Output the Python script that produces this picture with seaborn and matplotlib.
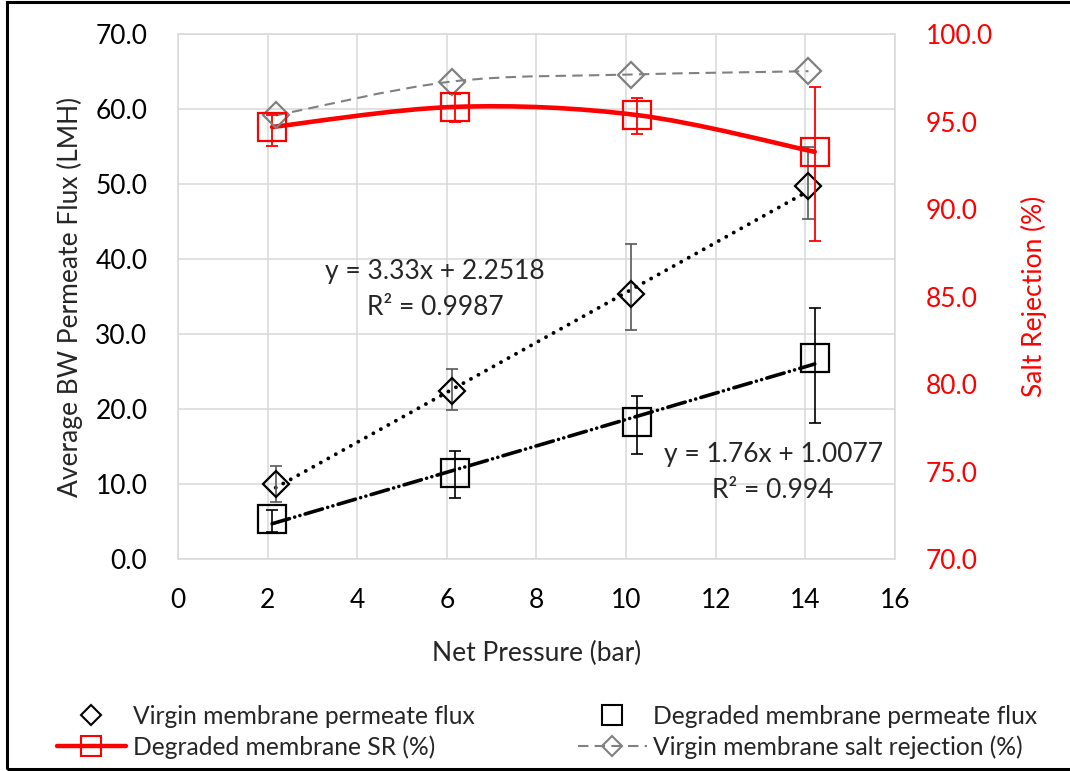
import numpy as np
import matplotlib
matplotlib.use("Agg")
import matplotlib.pyplot as plt
import seaborn as sns
from matplotlib.path import Path
from matplotlib.patches import PathPatch, Rectangle
from matplotlib.lines import Line2D
from matplotlib.ticker import FormatStrFormatter

# net pressure (bar)
virgin_x = [2.18, 6.11, 10.1, 14.07]
degraded_x = [2.1, 6.17, 10.25, 14.21]

# average permeate flux (LMH) with error bars (lower, upper)
virgin_flux = [10.0, 22.35, 35.3, 49.8]
virgin_flux_lo = [2.4, 2.45, 4.7, 4.4]
virgin_flux_hi = [2.4, 3.05, 6.7, 5.2]
degraded_flux = [5.3, 11.5, 18.3, 26.8]
degraded_flux_lo = [1.7, 3.3, 4.3, 8.6]
degraded_flux_hi = [1.3, 2.9, 3.5, 6.7]

# salt rejection (%)
virgin_sr = [95.36, 97.3, 97.7, 97.89]
degraded_sr = [94.7, 95.85, 95.38, 93.28]
degraded_sr_lo = [1.1, 0.89, 1.09, 5.08]
degraded_sr_hi = [0.7, 0.72, 0.95, 3.68]

# linear trendlines as printed on the chart: slope, intercept, R2
virgin_fit = [3.33, 2.2518, 0.9987]
degraded_fit = [1.76, 1.0077, 0.994]

x_ticks = [0, 2, 4, 6, 8, 10, 12, 14, 16]
flux_ticks = [0, 10, 20, 30, 40, 50, 60, 70]
sr_ticks = [70, 75, 80, 85, 90, 95, 100]

legend_labels = [
    "Virgin membrane permeate flux",
    "Degraded membrane SR (%)",
    "Degraded membrane permeate flux",
    "Virgin membrane salt rejection (%)",
]

RED = "#ff0000"
GREY = "#808080"
GRID = "#d9d9d9"
FS = 19


def smooth_path(xs, ys):
    # Excel-style smoothed line: Catmull-Rom segments as cubic Bezier curves
    pts = np.column_stack([xs, ys]).astype(float)
    ext = np.vstack([pts[0], pts, pts[-1]])
    verts = [pts[0]]
    codes = [Path.MOVETO]
    for i in range(len(pts) - 1):
        p0, p1, p2, p3 = ext[i], ext[i + 1], ext[i + 2], ext[i + 3]
        verts += [p1 + (p2 - p0) / 6, p2 - (p3 - p1) / 6, p2]
        codes += [Path.CURVE4] * 3
    return Path(verts, codes)


sns.set_theme(style="white")
plt.rcParams["font.family"] = ["Lato", "DejaVu Sans"]

fig = plt.figure(figsize=(10.7, 7.71), dpi=100)
ax = fig.add_axes([0.1664, 0.275, 0.6700, 0.6805])
ax2 = ax.twinx()

# left axis: permeate flux
ax.set_xlim(0, 16)
ax.set_ylim(0, 70)
ax.set_xticks(x_ticks)
ax.set_yticks(flux_ticks)
ax.yaxis.set_major_formatter(FormatStrFormatter("%.1f"))
ax.grid(True, color=GRID, lw=1.1)
ax.set_axisbelow(True)
for s in ax.spines.values():
    s.set_color(GRID)
    s.set_linewidth(1.1)
ax.tick_params(axis="both", length=0, labelsize=FS, colors="black")
ax.tick_params(axis="y", pad=22)
ax.tick_params(axis="x", pad=21)

# trendlines
vx = np.array([min(virgin_x), max(virgin_x)])
ax.plot(vx, virgin_fit[0] * vx + virgin_fit[1], color="black", lw=2.8,
        linestyle=(0, (0.01, 2.2)), dash_capstyle="round")
dx = np.array([min(degraded_x), max(degraded_x)])
ax.plot(dx, degraded_fit[0] * dx + degraded_fit[1], color="black", lw=2.6,
        linestyle=(0, (5, 1.5, 0.01, 1.5, 0.01, 1.5)), dash_capstyle="round")

ax.errorbar(virgin_x, virgin_flux, yerr=[virgin_flux_lo, virgin_flux_hi], fmt="none",
            ecolor="#595959", elinewidth=1.2, capsize=4.5, capthick=1.2)
ax.errorbar(degraded_x, degraded_flux, yerr=[degraded_flux_lo, degraded_flux_hi], fmt="none",
            ecolor="black", elinewidth=1.2, capsize=4.5, capthick=1.2)

sns.lineplot(x=virgin_x, y=virgin_flux, ax=ax, marker="D", linestyle="", markersize=13,
             markerfacecolor="none", markeredgecolor="black", markeredgewidth=1.6, errorbar=None)
sns.lineplot(x=degraded_x, y=degraded_flux, ax=ax, marker="s", linestyle="", markersize=19.5,
             markerfacecolor="none", markeredgecolor="black", markeredgewidth=1.6, errorbar=None)

ax.text(5.74, 38.3, f"y = {virgin_fit[0]}x + {virgin_fit[1]}", ha="center", va="center", fontsize=FS)
ax.text(5.74, 33.5, f"R² = {virgin_fit[2]}", ha="center", va="center", fontsize=FS)
ax.text(13.28, 13.9, f"y = {degraded_fit[0]}x + {degraded_fit[1]}", ha="center", va="center", fontsize=FS)
ax.text(13.28, 9.2, f"R² = {degraded_fit[2]}", ha="center", va="center", fontsize=FS)

ax.set_xlabel("Net Pressure (bar)", fontsize=FS, labelpad=20)
ax.set_ylabel("Average BW Permeate Flux (LMH)", fontsize=FS, labelpad=9)

# right axis: salt rejection
ax2.set_ylim(70, 100)
ax2.set_yticks(sr_ticks)
ax2.yaxis.set_major_formatter(FormatStrFormatter("%.1f"))
ax2.grid(False)
for s in ax2.spines.values():
    s.set_visible(False)
ax2.tick_params(axis="y", length=0, labelsize=FS, colors=RED, pad=22)
ax2.set_ylabel("Salt Rejection (%)", fontsize=FS, color=RED, labelpad=20)

ax2.add_patch(PathPatch(smooth_path(virgin_x, virgin_sr), fill=False, edgecolor=GREY,
                        lw=1.5, linestyle=(0, (5, 3))))
ax2.errorbar(degraded_x, degraded_sr, yerr=[degraded_sr_lo, degraded_sr_hi], fmt="none",
             ecolor=RED, elinewidth=1.3, capsize=4.5, capthick=1.3)
sns.lineplot(x=virgin_x, y=virgin_sr, ax=ax2, marker="D", linestyle="", markersize=13,
             markerfacecolor="none", markeredgecolor=GREY, markeredgewidth=1.6, errorbar=None)
sns.lineplot(x=degraded_x, y=degraded_sr, ax=ax2, marker="s", linestyle="", markersize=19.5,
             markerfacecolor="none", markeredgecolor=RED, markeredgewidth=1.6, errorbar=None)
ax2.add_patch(PathPatch(smooth_path(degraded_x, degraded_sr), fill=False, edgecolor=RED,
                        lw=3.3, capstyle="round"))

# legend
handles = [
    Line2D([], [], linestyle="none", marker="D", ms=10, mfc="none", mec="black", mew=1.5),
    Line2D([], [], color=RED, lw=3.2, marker="s", ms=14.5, mfc="none", mec=RED, mew=1.5),
    Line2D([], [], linestyle="none", marker="s", ms=14.5, mfc="none", mec="black", mew=1.5),
    Line2D([], [], color=GREY, lw=1.5, linestyle=(0, (5, 3)), marker="D", ms=10,
           mfc="none", mec=GREY, mew=1.5),
]
leg_font = {"family": ["Lato", "DejaVu Sans"], "size": 17.7}
fig.legend(handles[:2], legend_labels[:2], loc="center left", bbox_to_anchor=(0.0533, 0.0505),
           frameon=False, prop=leg_font, handlelength=2.8, handletextpad=0.27,
           borderpad=0, borderaxespad=0, labelspacing=0.3)
fig.legend(handles[2:], legend_labels[2:], loc="center left", bbox_to_anchor=(0.540, 0.0505),
           frameon=False, prop=leg_font, handlelength=2.8, handletextpad=0.27,
           borderpad=0, borderaxespad=0, labelspacing=0.3)

# chart border
fig.patches.append(Rectangle((0.007, 0.0032), 1.0, 0.9948, transform=fig.transFigure,
                             fill=False, edgecolor="black", lw=2.2))

fig.savefig("out.png", dpi=100)
